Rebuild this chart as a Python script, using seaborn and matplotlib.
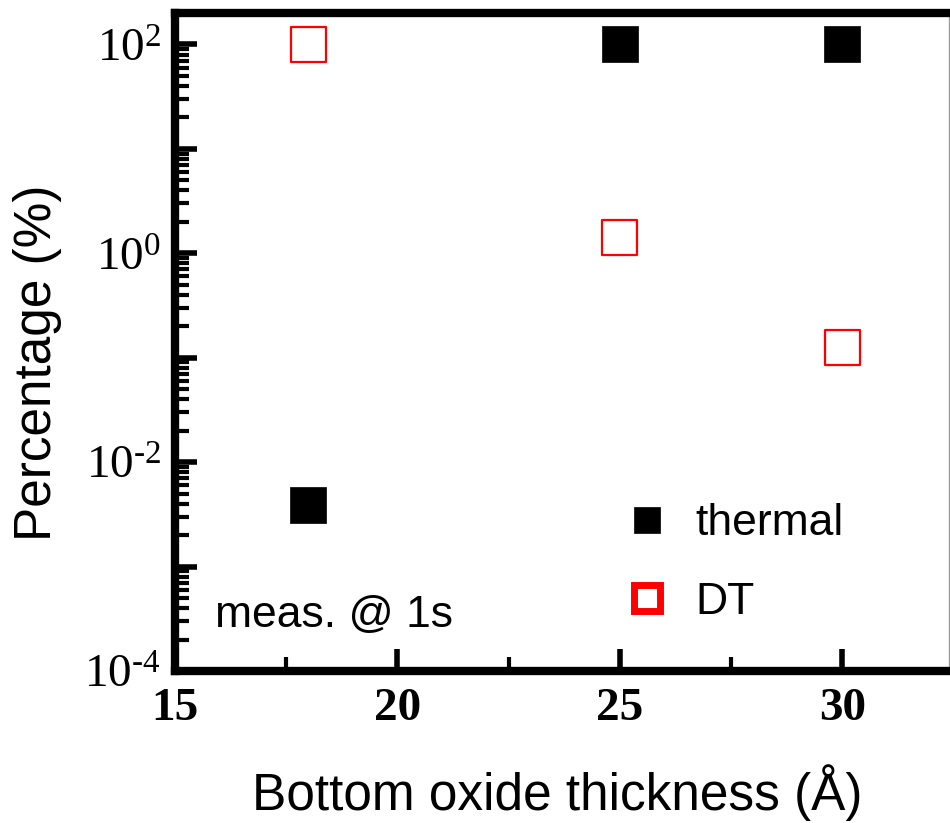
import matplotlib
matplotlib.use("Agg")
import matplotlib.pyplot as plt
import seaborn as sns
import numpy as np
import pandas as pd
from matplotlib.lines import Line2D
from matplotlib.ticker import LogLocator, FixedLocator, NullFormatter

# ---- data ----
thickness = [18, 25, 30]
thermal = [0.0039, 100, 100]
dt = [100, 1.41, 0.125]
xticks = [15, 20, 25, 30]
ytick_exps = [-4, -3, -2, -1, 0, 1, 2]
ytick_labels = [r"$10^{\text{-}4}$", "", r"$10^{\text{-}2}$", "", r"$10^{0}$", "", r"$10^{2}$"]

sns.set_theme(style="white")
plt.rcParams["font.family"] = ["Liberation Sans", "DejaVu Sans"]
plt.rcParams["mathtext.fontset"] = "custom"
plt.rcParams["mathtext.rm"] = "Liberation Serif"
plt.rcParams["mathtext.it"] = "Liberation Serif:italic"
plt.rcParams["mathtext.bf"] = "Liberation Serif:bold"
plt.rcParams["text.color"] = "black"
plt.rcParams["axes.labelcolor"] = "black"
plt.rcParams["xtick.color"] = "black"
plt.rcParams["ytick.color"] = "black"

df = pd.DataFrame({
    "x": thickness * 2,
    "y": thermal + dt,
    "series": ["thermal"] * 3 + ["DT"] * 3,
})

fig = plt.figure(figsize=(9.5, 8.23), dpi=100)
ax = fig.add_axes([175 / 950, 1 - 671 / 823, (949 - 175) / 950, (671 - 13) / 823])

sns.scatterplot(data=df[df.series == "thermal"], x="x", y="y", ax=ax,
                marker="s", s=26 ** 2, color="black", edgecolor="black",
                linewidth=0.5, legend=False, zorder=3)
sns.scatterplot(data=df[df.series == "DT"], x="x", y="y", ax=ax,
                marker="s", s=25 ** 2, facecolor="none", edgecolor="#ff0000",
                linewidth=1.6, legend=False, zorder=3)

ax.set_yscale("log")
ax.set_xlim(15, 32.4)
ax.set_ylim(1e-4, 200)

# spines
for side in ["left", "bottom", "top"]:
    ax.spines[side].set_linewidth(6)
    ax.spines[side].set_color("black")
ax.spines["right"].set_linewidth(1.0)
ax.spines["right"].set_color("#999999")

# x ticks
ax.xaxis.set_major_locator(FixedLocator(xticks))
ax.xaxis.set_minor_locator(FixedLocator([17.5, 22.5, 27.5]))
ax.set_xticklabels([str(t) for t in xticks], fontfamily="Liberation Serif",
                   fontweight="bold", fontsize=34, color="black")

# y ticks
ax.set_yticks([10.0 ** k for k in ytick_exps])
ax.set_yticklabels(ytick_labels, fontsize=34, color="black")
ax.yaxis.set_minor_locator(LogLocator(base=10, subs=np.arange(2, 10), numticks=20))
ax.yaxis.set_minor_formatter(NullFormatter())

ax.tick_params(axis="both", which="major", direction="in", length=16, width=4,
               color="black", bottom=True, left=True, top=False, right=False)
ax.tick_params(axis="both", which="minor", direction="in", length=10, width=3,
               color="black", bottom=True, left=True, top=False, right=False)
ax.tick_params(axis="x", which="major", pad=12)
ax.tick_params(axis="y", which="major", pad=10)

ax.set_xlabel("Bottom oxide thickness (Å)", fontsize=37, color="black")
ax.set_ylabel("Percentage (%)", fontsize=37, color="black")
ax.xaxis.set_label_coords((557 - 175) / 774, (671 - 764) / 658)
ax.yaxis.set_label_coords((62 - 175) / 774, (671 - 363) / 658)

ax.text((215 - 175) / 774, (671 - 627) / 658, "meas. @ 1s", transform=ax.transAxes,
        fontsize=32, ha="left", va="baseline", color="black")

handles = [
    Line2D([], [], marker="s", linestyle="none", markersize=19,
           markerfacecolor="black", markeredgecolor="black", markeredgewidth=0.5),
    Line2D([], [], marker="s", linestyle="none", markersize=19,
           markerfacecolor="white", markeredgecolor="#ff0000", markeredgewidth=5),
]
leg = ax.legend(handles, ["thermal", "DT"], loc="upper left",
                bbox_to_anchor=((598 - 175) / 774, (671 - 481) / 658),
                frameon=False, fontsize=32, handletextpad=0.5,
                labelspacing=0.85, borderpad=0, handlelength=1.2)
for t in leg.get_texts():
    t.set_color("black")

fig.savefig("out.png", dpi=100)
